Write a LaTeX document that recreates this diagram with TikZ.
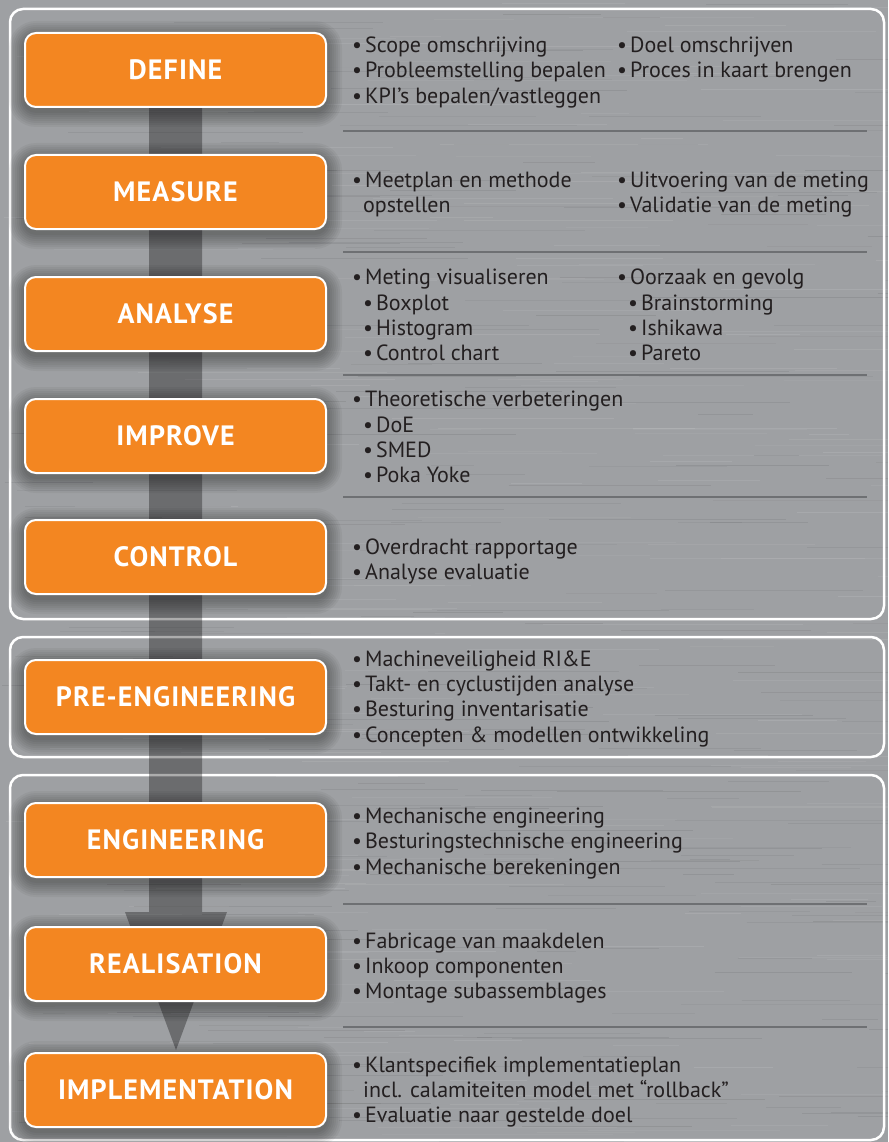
\documentclass[tikz,border=0pt]{standalone}
\usepackage{fontspec}
\setmainfont{PT Sans}
\definecolor{bg}{RGB}{158,160,163}
\definecolor{orng}{RGB}{243,134,33}
\definecolor{ink}{RGB}{35,31,32}
\definecolor{sepc}{RGB}{110,112,115}
\newcommand\bu{\textbullet\kern3pt}
\begin{document}
\begin{tikzpicture}[x=1pt,y=-1pt,
  panel/.style={draw=white, line width=2.5pt, rounded corners=13pt},
  phase/.style={fill=orng, draw=white, line width=2pt, rounded corners=11pt,
    minimum width=301pt, minimum height=74pt, inner sep=0pt, text=white,
    font=\fontsize{28}{30}\selectfont\bfseries\addfontfeature{LetterSpace=4}},
  txt/.style={anchor=base west, inner sep=0pt, text=ink, font=\fontsize{22}{25}\selectfont},
  sepline/.style={draw=sepc, line width=2pt}]
\useasboundingbox (0,0) rectangle (888,1142);
\fill[bg] (0,0) rectangle (888,1142);
% brushed texture
\begin{scope}
\clip (0,0) rectangle (888,1142);
\pgfmathsetseed{7}
\foreach \i in {1,...,260}{
  \pgfmathsetmacro\sx{rnd*888}\pgfmathsetmacro\sy{rnd*1142}
  \pgfmathsetmacro\sl{40+rnd*220}\pgfmathsetmacro\so{0.04+rnd*0.06}
  \draw[white, line width=0.9pt, opacity=\so] (\sx,\sy) -- ++(\sl,0);
}
\foreach \i in {1,...,260}{
  \pgfmathsetmacro\sx{rnd*888}\pgfmathsetmacro\sy{rnd*1142}
  \pgfmathsetmacro\sl{40+rnd*220}\pgfmathsetmacro\so{0.03+rnd*0.05}
  \draw[black, line width=0.9pt, opacity=\so] (\sx,\sy) -- ++(\sl,0);
}
\end{scope}
% panels
\draw[panel] (10,9) rectangle (884,619);
\draw[panel] (10,637) rectangle (884,757);
\draw[panel] (10,775) rectangle (884,1140);
% separators
\foreach \yy in {131,252,375,497,904,1027}
  \draw[sepline] (343,\yy) -- (867,\yy);
% big arrow
\fill[black, opacity=0.32] (149,70) -- (202,70) -- (202,912) -- (227,912) -- (176,1050) -- (125,912) -- (149,912) -- cycle;
% shadows
\foreach \c in {70,192,314,436,557,697,840,964,1090}{
  \foreach \k in {2,4,...,16}{
    \pgfmathsetmacro\rr{11+\k}
    \fill[black, opacity=0.045, rounded corners=\rr pt] (25-\k,\c-37-\k+4) rectangle (326+\k,\c+37+\k+4);
  }
}
% phase boxes
\node[phase] (define) at (175.5,70) {DEFINE};
\node[phase] (measure) at (175.5,192) {MEASURE};
\node[phase] (analyse) at (175.5,314) {ANALYSE};
\node[phase] (improve) at (175.5,436) {IMPROVE};
\node[phase] (control) at (175.5,557) {CONTROL};
\node[phase] (preeng) at (175.5,697) {PRE-ENGINEERING};
\node[phase] (eng) at (175.5,840) {ENGINEERING};
\node[phase] (real) at (175.5,964) {REALISATION};
\node[phase] (impl) at (175.5,1090) {IMPLEMENTATION};
% DEFINE
\node[txt] (d1) at (352,53) {\bu Scope omschrijving};
\node[txt] (d2) at (352,78) {\bu Probleemstelling bepalen};
\node[txt] (d3) at (352,104) {\bu KPI’s bepalen/vastleggen};
\node[txt] (d4) at (617,53) {\bu Doel omschrijven};
\node[txt] (d5) at (617,78) {\bu Proces in kaart brengen};
% MEASURE
\node[txt] (m1) at (352,187) {\bu Meetplan en methode};
\node[txt] (m2) at (363,212) {opstellen};
\node[txt] (m3) at (617,187) {\bu Uitvoering van de meting};
\node[txt] (m4) at (617,212) {\bu Validatie van de meting};
% ANALYSE
\node[txt] (a1) at (352,284) {\bu Meting visualiseren};
\node[txt] (a2) at (363,310) {\bu Boxplot};
\node[txt] (a3) at (363,335) {\bu Histogram};
\node[txt] (a4) at (363,360) {\bu Control chart};
\node[txt] (a5) at (617,284) {\bu Oorzaak en gevolg};
\node[txt] (a6) at (628,310) {\bu Brainstorming};
\node[txt] (a7) at (628,335) {\bu Ishikawa};
\node[txt] (a8) at (628,360) {\bu Pareto};
% IMPROVE
\node[txt] (i1) at (352,406) {\bu Theoretische verbeteringen};
\node[txt] (i2) at (363,432) {\bu DoE};
\node[txt] (i3) at (363,457) {\bu SMED};
\node[txt] (i4) at (363,482) {\bu Poka Yoke};
% CONTROL
\node[txt] (c1) at (352,554) {\bu Overdracht rapportage};
\node[txt] (c2) at (352,579) {\bu Analyse evaluatie};
% PRE-ENGINEERING
\node[txt] (p1) at (352,666) {\bu Machineveiligheid RI\&E};
\node[txt] (p2) at (352,691) {\bu Takt- en cyclustijden analyse};
\node[txt] (p3) at (352,716) {\bu Besturing inventarisatie};
\node[txt] (p4) at (352,742) {\bu Concepten \& modellen ontwikkeling};
% ENGINEERING
\node[txt] (e1) at (352,823) {\bu Mechanische engineering};
\node[txt] (e2) at (352,848) {\bu Besturingstechnische engineering};
\node[txt] (e3) at (352,874) {\bu Mechanische berekeningen};
% REALISATION
\node[txt] (r1) at (352,948) {\bu Fabricage van maakdelen};
\node[txt] (r2) at (352,973) {\bu Inkoop componenten};
\node[txt] (r3) at (352,998) {\bu Montage subassemblages};
% IMPLEMENTATION
\node[txt] (im1) at (352,1072) {\bu Klantspecifiek implementatieplan};
\node[txt] (im2) at (363,1097) {incl. calamiteiten model met “rollback”};
\node[txt] (im3) at (352,1122) {\bu Evaluatie naar gestelde doel};
\end{tikzpicture}
\end{document}
